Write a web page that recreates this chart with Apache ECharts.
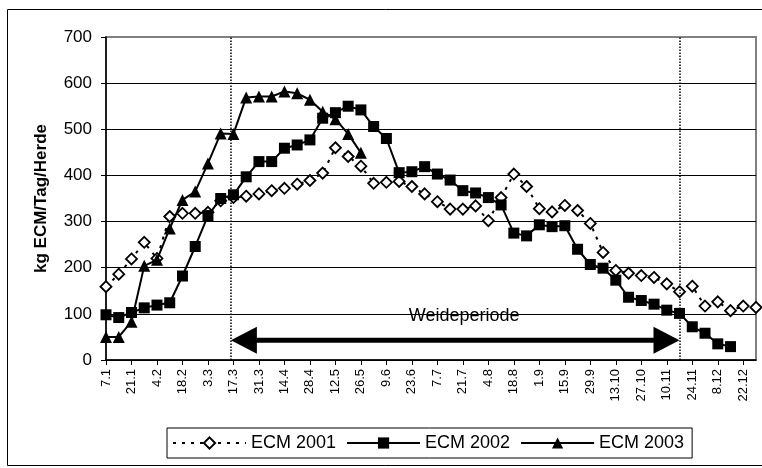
<!DOCTYPE html>
<html>
<head>
<meta charset="utf-8">
<script src="https://cdn.jsdelivr.net/npm/echarts@6/dist/echarts.min.js"></script>
<style>
  html, body { margin: 0; padding: 0; background: #fff; }
  #chart { width: 762px; height: 468px; }
</style>
</head>
<body>
<div id="chart"></div>
<script>
// Weekly sampling dates (day.month); every second one is labelled
const weeks = [
  '7.1', '14.1', '21.1', '28.1', '4.2', '11.2', '18.2', '25.2', '3.3', '10.3',
  '17.3', '24.3', '31.3', '7.4', '14.4', '21.4', '28.4', '5.5', '12.5', '19.5',
  '26.5', '2.6', '9.6', '16.6', '23.6', '30.6', '7.7', '14.7', '21.7', '28.7',
  '4.8', '11.8', '18.8', '25.8', '1.9', '8.9', '15.9', '22.9', '29.9', '6.10',
  '13.10', '20.10', '27.10', '3.11', '10.11', '17.11', '24.11', '1.12', '8.12', '15.12',
  '22.12', '29.12'
];

// Herd milk yield, kg ECM per day
const ecm2001 = [
  159, 186, 219, 255, 220, 311, 318, 318, 320, 345,
  352, 355, 360, 367, 372, 381, 389, 405, 460, 441,
  420, 383, 385, 387, 376, 360, 343, 327, 327, 334,
  302, 352, 403, 376, 328, 321, 335, 324, 296, 233,
  194, 188, 183, 179, 165, 148, 160, 117, 126, 107,
  117, 114
];
const ecm2002 = [
  98, 92, 103, 113, 119, 124, 182, 246, 313, 350,
  358, 397, 430, 430, 459, 466, 477, 524, 536, 550,
  542, 506, 480, 406, 408, 419, 403, 390, 367, 362,
  352, 336, 275, 269, 293, 289, 291, 240, 207, 199,
  173, 136, 129, 121, 108, 101, 72, 58, 35, 29
];
const ecm2003 = [
  50, 50, 83, 204, 217, 285, 347, 365, 426, 491,
  490, 569, 571, 571, 582, 578, 564, 538, 522, 490,
  449
];

// Value axis ticks
const yMin = 0, yMax = 700, yStep = 100;

// Grazing period (in week positions) and the height of its arrow
const grazingPeriod = [9.8, 45.0];
const grazingArrowValue = 43;
const grazingText = 'Weideperiode';

const FONT = '"Liberation Sans", Arial, Helvetica, sans-serif';
const BLACK = '#000';

const chart = echarts.init(document.getElementById('chart'), null, { renderer: 'canvas' });

const gridLineColors = [];
for (let v = yMin; v <= yMax; v += yStep) {
  gridLineColors.push(v === yMax ? '#808080' : BLACK);
}

// Double-headed arrow drawn between two axis positions
function renderArrow(params, api) {
  const a = api.coord([api.value(0), api.value(2)]);
  const b = api.coord([api.value(1), api.value(2)]);
  const headLen = 26, headHalf = 13.5, shaft = 5;
  const style = { fill: BLACK, stroke: null };
  return {
    type: 'group',
    children: [
      { type: 'rect', shape: { x: a[0] + headLen - 2, y: a[1] - shaft / 2, width: (b[0] - a[0]) - 2 * headLen + 4, height: shaft }, style },
      { type: 'polygon', shape: { points: [[a[0], a[1]], [a[0] + headLen, a[1] - headHalf], [a[0] + headLen, a[1] + headHalf]] }, style },
      { type: 'polygon', shape: { points: [[b[0], b[1]], [b[0] - headLen, b[1] - headHalf], [b[0] - headLen, b[1] + headHalf]] }, style }
    ]
  };
}

chart.setOption({
  animation: false,
  backgroundColor: '#fff',
  textStyle: { fontFamily: FONT, color: BLACK },
  graphic: [{
    type: 'rect',
    silent: true,
    z: -10,
    shape: { x: 7.5, y: 9.5, width: 800, height: 456 },
    style: { fill: 'none', stroke: BLACK, lineWidth: 1 }
  }],
  grid: {
    left: 106, right: 6, top: 37, bottom: 108,
    show: true, borderColor: '#808080', borderWidth: 2,
    backgroundColor: 'transparent',
    outerBoundsMode: 'none'
  },
  legend: {
    data: ['ECM 2001', 'ECM 2002', 'ECM 2003'],
    left: 167, top: 428,
    orient: 'horizontal',
    itemWidth: 73, itemHeight: 14, itemGap: 10,
    padding: [6, 8, 6, 5],
    borderColor: BLACK, borderWidth: 1,
    textStyle: { fontFamily: FONT, fontSize: 18, color: BLACK },
    selectedMode: false
  },
  xAxis: [{
    type: 'category',
    data: weeks,
    boundaryGap: false,
    axisLine: { show: true, lineStyle: { color: BLACK, width: 1.5 } },
    axisTick: { show: true, interval: 1, length: 5, lineStyle: { color: BLACK } },
    axisLabel: { interval: 1, rotate: 90, fontSize: 13, color: BLACK, fontFamily: FONT, margin: 9 },
    splitLine: { show: false }
  }, {
    type: 'value',
    min: 0, max: weeks.length - 1,
    show: false
  }],
  yAxis: {
    type: 'value',
    min: yMin, max: yMax, interval: yStep,
    name: 'kg ECM/Tag/Herde',
    nameLocation: 'middle',
    nameRotate: 90,
    nameGap: 56,
    nameTextStyle: { fontFamily: FONT, fontSize: 17, fontWeight: 'bold', color: BLACK },
    axisLine: { show: true, lineStyle: { color: BLACK, width: 1.5 } },
    axisTick: { show: true, length: 5, lineStyle: { color: BLACK } },
    axisLabel: { fontSize: 17, color: BLACK, fontFamily: FONT, margin: 14 },
    splitLine: { show: true, lineStyle: { color: gridLineColors, width: 1 } }
  },
  series: [
    {
      name: 'ECM 2001',
      type: 'line',
      data: ecm2001,
      showAllSymbol: true,
      symbol: 'diamond',
      symbolSize: 11,
      itemStyle: { color: '#fff', borderColor: BLACK, borderWidth: 1.8 },
      lineStyle: { color: BLACK, width: 2, type: [3, 6] },
      z: 3
    },
    {
      name: 'ECM 2002',
      type: 'line',
      data: ecm2002,
      showAllSymbol: true,
      symbol: 'rect',
      symbolSize: 11,
      itemStyle: { color: BLACK },
      lineStyle: { color: BLACK, width: 2 },
      z: 4
    },
    {
      name: 'ECM 2003',
      type: 'line',
      data: ecm2003,
      showAllSymbol: true,
      symbol: 'triangle',
      symbolSize: 12,
      itemStyle: { color: BLACK },
      lineStyle: { color: BLACK, width: 2 },
      z: 5
    },
    {
      // start / end of the grazing season
      name: 'bounds',
      type: 'line',
      xAxisIndex: 1,
      data: [],
      silent: true,
      markLine: {
        silent: true,
        animation: false,
        symbol: 'none',
        label: { show: false },
        lineStyle: { color: BLACK, width: 1.5, type: 'dotted' },
        emphasis: { disabled: true },
        data: grazingPeriod.map(p => ({ xAxis: p }))
      },
      markPoint: {
        silent: true,
        animation: false,
        symbol: 'circle',
        symbolSize: 1,
        itemStyle: { color: 'rgba(0,0,0,0)' },
        label: {
          show: true, position: 'inside',
          formatter: grazingText,
          fontFamily: FONT, fontSize: 18, color: BLACK
        },
        data: [{ coord: [28.1, 95] }]
      }
    },
    {
      // double arrow spanning the grazing season
      name: 'arrow',
      type: 'custom',
      xAxisIndex: 1,
      silent: true,
      renderItem: renderArrow,
      data: [[grazingPeriod[0], grazingPeriod[1], grazingArrowValue]],
      z: 6
    }
  ]
});
</script>
</body>
</html>
